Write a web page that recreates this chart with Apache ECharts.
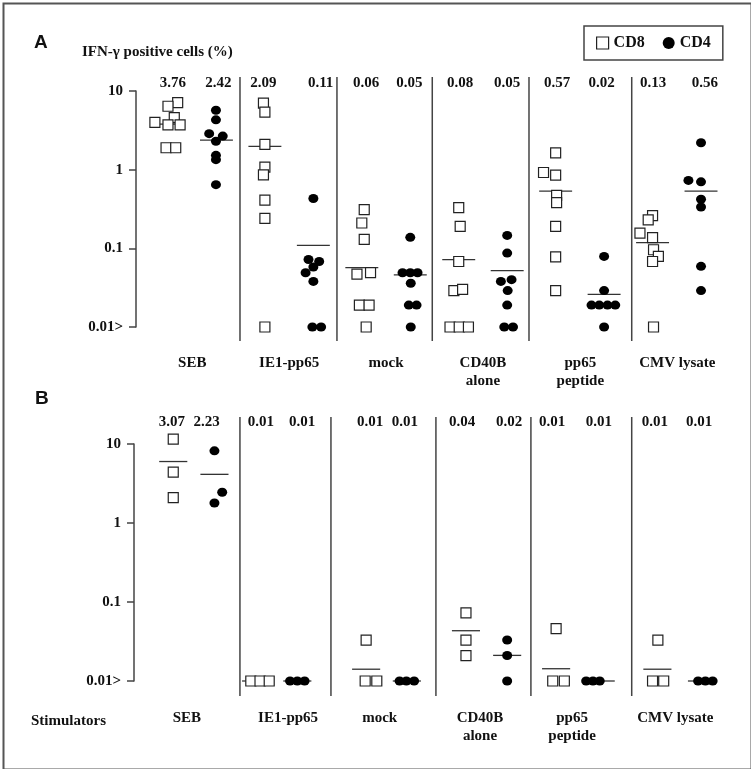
<!DOCTYPE html>
<html>
<head>
<meta charset="utf-8">
<script src="https://cdn.jsdelivr.net/npm/echarts@6/dist/echarts.min.js"></script>
<style>
html,body{margin:0;padding:0;background:#fff;}
#chart{width:751px;height:769px;}
</style>
</head>
<body>
<div id="chart"></div>
<script>
// ---------- data ----------
const stimulators = ['SEB', 'IE1-pp65', 'mock', 'CD40B\nalone', 'pp65\npeptide', 'CMV lysate'];
const stimPosA = [0.5, 2.5, 4.5, 6.5, 8.51, 10.51];
const stimPosB = [0.39, 2.48, 4.37, 6.44, 8.34, 10.47];
const meanLabelsA = ['3.76', '2.42', '2.09', '0.11', '0.06', '0.05', '0.08', '0.05', '0.57', '0.02', '0.13', '0.56'];
const meanLabelPosA = [0.10, 1.04, 1.97, 3.15, 4.09, 4.98, 6.03, 7.0, 8.03, 8.95, 10.01, 11.08];
const meanLabelsB = ['3.07', '2.23', '0.01', '0.01', '0.01', '0.01', '0.04', '0.02', '0.01', '0.01', '0.01', '0.01'];
const meanLabelPosB = [0.08, 0.80, 1.92, 2.77, 4.17, 4.89, 6.07, 7.04, 7.93, 8.89, 10.05, 10.96];
const yTickValues = [0.01, 0.1, 1, 10];
const yTickLabels = ['0.01>', '0.1', '1', '10'];

// points: [column position (0..11, jittered), % IFN-gamma positive cells]
const cd8A = [
  [0.2, 7.1], [0, 6.4], [-0.27, 4.0], [0.13, 4.6], [0, 3.7], [0.25, 3.7], [-0.04, 1.9], [0.16, 1.9],
  [1.97, 7.0], [2.0, 5.4], [2.0, 2.1], [2.0, 1.08], [1.97, 0.86], [2.0, 0.41], [2.0, 0.24], [2.0, 0.01],
  [4.05, 0.31], [4.0, 0.21], [4.05, 0.13], [3.9, 0.047], [4.18, 0.049], [3.95, 0.019], [4.15, 0.019], [4.09, 0.01],
  [6.0, 0.33], [6.03, 0.19], [6.0, 0.068], [5.9, 0.029], [6.08, 0.030], [5.82, 0.01], [6.01, 0.01], [6.2, 0.01],
  [8.0, 1.63], [7.75, 0.92], [8.0, 0.85], [8.02, 0.47], [8.02, 0.38], [8.0, 0.19], [8.0, 0.078], [8.0, 0.029],
  [10.0, 0.26], [9.91, 0.23], [9.74, 0.156], [10.0, 0.137], [10.02, 0.096], [10.12, 0.079], [10.0, 0.068], [10.02, 0.01]
];
const cd4A = [
  [0.99, 5.7], [0.99, 4.3], [0.85, 2.87], [1.13, 2.67], [0.99, 2.3], [0.99, 1.52], [0.99, 1.34], [0.99, 0.645],
  [3.0, 0.43], [2.9, 0.072], [3.12, 0.068], [3.0, 0.058], [2.84, 0.049], [3.0, 0.038], [2.98, 0.01], [3.16, 0.01],
  [5.0, 0.138], [4.84, 0.049], [5.0, 0.049], [5.15, 0.049], [5.01, 0.036], [4.97, 0.019], [5.13, 0.019], [5.01, 0.01],
  [7.0, 0.146], [7.0, 0.087], [6.87, 0.038], [7.09, 0.040], [7.01, 0.029], [7.0, 0.019], [6.94, 0.01], [7.12, 0.01],
  [9.0, 0.079], [9.0, 0.029], [8.74, 0.019], [8.9, 0.019], [9.07, 0.019], [9.23, 0.019], [9.0, 0.01],
  [11.0, 2.2], [10.74, 0.73], [11.0, 0.70], [11.0, 0.42], [11.0, 0.335], [11.0, 0.059], [11.0, 0.029]
];
const meanA = [
  [0, 3.8], [1, 2.38], [2, 1.98], [3, 0.109], [4, 0.057], [5, 0.046],
  [6, 0.072], [7, 0.052], [8, 0.535], [9, 0.026], [10, 0.118], [11, 0.535]
];

const cd8B = [
  [0.11, 11.5], [0.11, 4.4], [0.11, 2.1],
  [1.71, 0.01], [1.9, 0.01], [2.09, 0.01],
  [4.09, 0.033], [4.07, 0.01], [4.31, 0.01],
  [6.15, 0.073], [6.15, 0.033], [6.15, 0.021],
  [8.01, 0.046], [7.94, 0.01], [8.18, 0.01],
  [10.11, 0.033], [10.0, 0.01], [10.23, 0.01]
];
const cd4B = [
  [0.96, 8.2], [1.12, 2.45], [0.96, 1.79],
  [2.52, 0.01], [2.67, 0.01], [2.82, 0.01],
  [4.78, 0.01], [4.92, 0.01], [5.08, 0.01],
  [7.0, 0.033], [7.0, 0.021], [7.0, 0.01],
  [8.63, 0.01], [8.77, 0.01], [8.91, 0.01],
  [10.94, 0.01], [11.09, 0.01], [11.24, 0.01]
];
const meanB = [
  [0.11, 6.0], [0.96, 4.13], [1.82, 0.01], [2.67, 0.01], [4.09, 0.0141], [4.93, 0.01],
  [6.15, 0.0433], [7.0, 0.0211], [8.01, 0.0143], [8.93, 0.01], [10.1, 0.0141], [11.02, 0.01]
];

// column-group separators (in column units)
const sepA = [1.486, 3.487, 5.454, 7.45, 9.57];
const sepB = [1.486, 3.364, 5.53, 7.49, 9.57];

// ---------- chart ----------
const SERIF = '"Liberation Serif", "Times New Roman", serif';
const SANS = '"Liberation Sans", Arial, sans-serif';
const INK = '#111';
const AXIS = '#444';

function yLabel(v) {
  let best = 0, bd = Infinity;
  yTickValues.forEach((t, i) => {
    const d = Math.abs(Math.log10(v) - Math.log10(t));
    if (d < bd) { bd = d; best = i; }
  });
  return yTickLabels[best];
}

function meanLineSeries(data, xi, yi, hw) {
  return {
    type: 'custom', xAxisIndex: xi, yAxisIndex: yi, z: 1, silent: true, clip: false,
    data: data,
    renderItem: function (params, api) {
      const a = api.coord([api.value(0) - hw, api.value(1)]);
      const b = api.coord([api.value(0) + hw, api.value(1)]);
      return { type: 'line', shape: { x1: a[0], y1: a[1], x2: b[0], y2: b[1] },
               style: { stroke: '#333', lineWidth: 1.3 } };
    }
  };
}
function sepSeries(data, xi, yi) {
  return {
    type: 'custom', xAxisIndex: xi, yAxisIndex: yi, z: 1, silent: true, clip: false,
    data: data.map(x => [x, 0]),
    renderItem: function (params, api) {
      const a = api.coord([api.value(0), 0]);
      const b = api.coord([api.value(0), 1]);
      return { type: 'line', shape: { x1: a[0], y1: a[1], x2: b[0], y2: b[1] },
               style: { stroke: AXIS, lineWidth: 1.5 } };
    }
  };
}
// text rows attached to the separator frame: y=1 is the frame top, y=0 its bottom
function textRowSeries(texts, positions, xi, yi, yv, valign, offsetY) {
  return {
    type: 'scatter', xAxisIndex: xi, yAxisIndex: yi, silent: true, z: 4, clip: false,
    symbolSize: 0.1, itemStyle: { color: 'transparent', opacity: 1 },
    data: texts.map((t, i) => ({ name: t, value: [positions[i], yv] })),
    label: {
      show: true, position: 'inside', formatter: '{b}', offset: [0, offsetY],
      align: 'center', verticalAlign: valign, opacity: 1,
      color: INK, fontFamily: SERIF, fontWeight: 'bold', fontSize: 15, lineHeight: 18
    }
  };
}
const cd8Style = { color: '#fff', borderColor: '#222', borderWidth: 1.2, opacity: 1 };
const cd4Style = { color: '#000', opacity: 1 };

function logAxis(gi) {
  return {
    gridIndex: gi, type: 'log', logBase: 10, min: 0.01, max: 10,
    axisLine: { show: true, onZero: false, lineStyle: { color: AXIS, width: 1.5 } },
    axisTick: { show: true, length: 7, lineStyle: { color: AXIS, width: 1.5 } },
    minorTick: { show: false },
    splitLine: { show: false },
    axisLabel: { margin: 13, color: INK, fontFamily: SERIF, fontWeight: 'bold', fontSize: 15, formatter: yLabel }
  };
}
const hidden = (gi, min, max) => ({ gridIndex: gi, type: 'value', min: min, max: max, show: false });

function pointSeries(name, xi, yi, data) {
  const isCD8 = name === 'CD8';
  return {
    name: name, type: 'scatter', xAxisIndex: xi, yAxisIndex: yi, z: 3, clip: false, silent: true,
    symbol: isCD8 ? 'rect' : 'circle', symbolSize: isCD8 ? 10 : [10, 9],
    itemStyle: isCD8 ? cd8Style : cd4Style, data: data
  };
}

const option = {
  animation: false,
  backgroundColor: '#fff',
  title: [
    { text: 'A', left: 29, top: 28, textStyle: { fontFamily: SANS, fontWeight: 'bold', fontSize: 19, color: INK } },
    { text: 'IFN-γ positive cells (%)', left: 77, top: 40, textStyle: { fontFamily: SERIF, fontWeight: 'bold', fontSize: 15, color: INK } },
    { text: 'B', left: 30, top: 384, textStyle: { fontFamily: SANS, fontWeight: 'bold', fontSize: 19, color: INK } },
    { text: 'Stimulators', left: 26, top: 709, textStyle: { fontFamily: SERIF, fontWeight: 'bold', fontSize: 15, color: INK } }
  ],
  legend: {
    left: 584, top: 26, orient: 'horizontal',
    padding: [9, 12, 9, 12], itemWidth: 12, itemHeight: 12, itemGap: 18,
    borderColor: AXIS, borderWidth: 1.5,
    textStyle: { fontFamily: SERIF, fontWeight: 'bold', fontSize: 16, color: INK },
    data: [
      { name: 'CD8', icon: 'rect', itemStyle: cd8Style },
      { name: 'CD4', icon: 'circle', itemStyle: cd4Style }
    ]
  },
  grid: [
    { left: 136, right: 18, top: 91, height: 236 },   // 0 A data
    { left: 136, right: 18, top: 77, height: 264 },   // 1 A frame (separators, text rows)
    { left: 134, right: 18, top: 444, height: 237 },  // 2 B data
    { left: 134, right: 18, top: 417, height: 279 }   // 3 B frame
  ],
  xAxis: [
    hidden(0, -0.66, 11.66),
    hidden(1, -0.66, 11.66),
    hidden(2, -0.70, 11.66),
    hidden(3, -0.70, 11.66)
  ],
  yAxis: [
    logAxis(0),
    hidden(1, 0, 1),
    logAxis(2),
    hidden(3, 0, 1)
  ],
  series: [
    sepSeries(sepA, 1, 1),
    sepSeries(sepB, 3, 3),
    textRowSeries(meanLabelsA, meanLabelPosA, 1, 1, 1, 'middle', 6),
    textRowSeries(stimulators, stimPosA, 1, 1, 0, 'top', 13),
    textRowSeries(meanLabelsB, meanLabelPosB, 3, 3, 1, 'middle', 5),
    textRowSeries(stimulators, stimPosB, 3, 3, 0, 'top', 13),
    meanLineSeries(meanA, 0, 0, 0.34),
    meanLineSeries(meanB, 2, 2, 0.29),
    pointSeries('CD8', 0, 0, cd8A),
    pointSeries('CD4', 0, 0, cd4A),
    pointSeries('CD8', 2, 2, cd8B),
    pointSeries('CD4', 2, 2, cd4B)
  ],
  graphic: [
    { type: 'rect', left: 1, top: 1, silent: true, z: 100,
      shape: { width: 748, height: 766 }, style: { fill: 'none', stroke: '#555', lineWidth: 2 } }
  ]
};

const chart = echarts.init(document.getElementById('chart'), null, { renderer: 'canvas' });
chart.setOption(option);
</script>
</body>
</html>
